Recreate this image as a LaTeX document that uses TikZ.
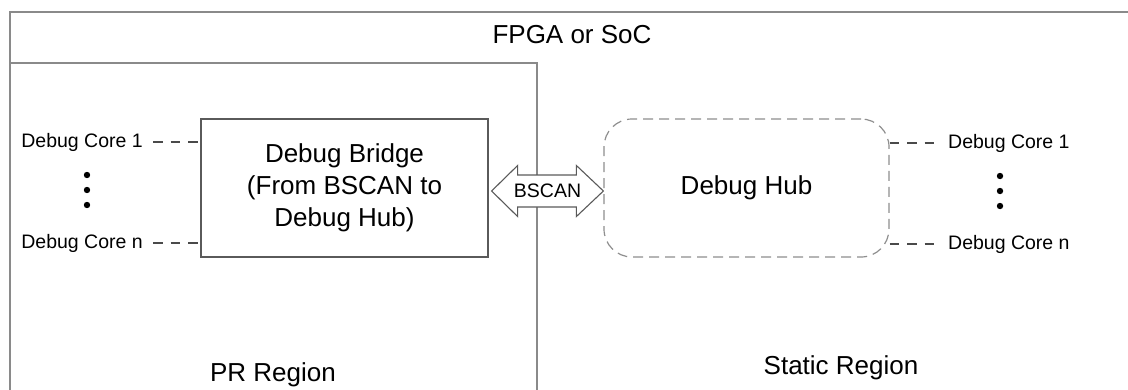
\documentclass[tikz,border=0pt]{standalone}
\usepackage{fontspec}
\setmainfont{Liberation Sans}
\usetikzlibrary{calc,positioning}
\definecolor{frame}{HTML}{8A8A8A}
\definecolor{edge}{HTML}{5A5A5A}
\definecolor{hubline}{HTML}{8E8E8E}
\definecolor{wire}{HTML}{4A4A4A}

\begin{document}
\begin{tikzpicture}[x=1pt,y=-1pt,
    big/.style={font=\fontsize{26}{32}\selectfont,inner sep=0pt},
    small/.style={font=\fontsize{19.5}{22}\selectfont,inner sep=0pt},
    block/.style={draw=edge,line width=1.2pt,fill=white,align=center,big},
    tie/.style={draw=wire,line width=1.2pt,dash pattern=on 9.5pt off 8pt}]
  \useasboundingbox (0,0) rectangle (1128,389);
  \clip (0,0) rectangle (1128,389);
  % device outline and the two regions
  \draw[frame,line width=1.4pt] (10,400) -- (10,12) -- (1140,12);
  \draw[frame,line width=1.4pt] (10,400) |- (537,63) -- (537,400);
  \node[big,anchor=base] (chip) at (572,43) {FPGA or SoC};
  \node[big,anchor=base] (pr) at (273,381) {PR Region};
  \node[big,anchor=base] (static) at (841,374) {Static Region};
  % bridge and hub
  \node[block,minimum width=287,minimum height=138] (bridge) at (344.5,188)
    {Debug Bridge\\(From BSCAN to\\Debug Hub)};
  \node[draw=hubline,line width=1.2pt,dash pattern=on 10pt off 6pt,rounded corners=28pt,
    minimum width=285,minimum height=138,big] (hub) at (746.5,188) {Debug Hub};
  % debug cores on either side
  \node[small,anchor=base east] (lcore1) at (143,147) {Debug Core 1};
  \node[small,anchor=base east] (lcoren) at (143,248) {Debug Core n};
  \node[small,anchor=base west] (rcore1) at (948,148) {Debug Core 1};
  \node[small,anchor=base west] (rcoren) at (948,249) {Debug Core n};
  \draw[tie] ([xshift=10pt]lcore1.east) -- (lcore1.east -| bridge.west);
  \draw[tie] ([xshift=10pt]lcoren.east) -- (lcoren.east -| bridge.west);
  \draw[tie] (rcore1.west -| hub.east) -- ([xshift=-13pt]rcore1.west);
  \draw[tie] (rcoren.west -| hub.east) -- ([xshift=-13pt]rcoren.west);
  \foreach \x/\y in {87/175,87/190,87/205,1000/176,1000/191,1000/206}
    \fill (\x,\y) circle (3.2);
  % BSCAN link
  \coordinate (bsl) at ([xshift=3pt,yshift=-3pt]bridge.east);
  \coordinate (bsr) at (bsl -| hub.west);
  \draw[edge,line width=1.1pt,fill=white] (bsl) -- ++(26,-25.5) -- ++(0,9.5)
    -- ($(bsr)+(-27,-16)$) -- ++(0,-9.5) -- (bsr) -- ++(-27,25.5) -- ++(0,-9.5)
    -- ($(bsl)+(26,16)$) -- ++(0,9.5) -- cycle;
  \node[small] (bscan) at ($(bsl)!0.5!(bsr)$) {BSCAN};
\end{tikzpicture}
\end{document}
